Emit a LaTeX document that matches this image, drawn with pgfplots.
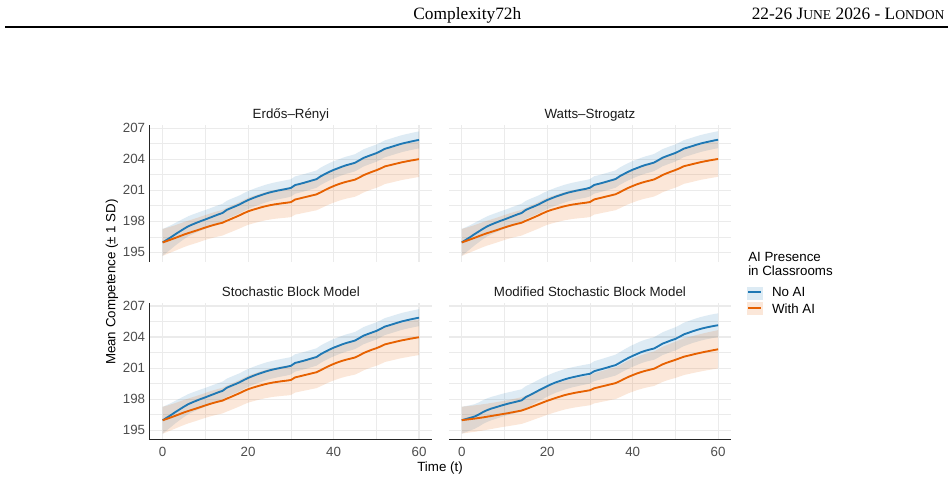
\documentclass[border=0pt]{standalone}
\usepackage{pgfplots}
\pgfplotsset{compat=1.18}
\usepackage{pgfplotstable}
\usepgfplotslibrary{fillbetween}
\usepackage{fontspec}
\setmainfont{Liberation Sans}
\newfontfamily\headfont{Liberation Serif}

\definecolor{noai}{HTML}{1F78B4}
\definecolor{withai}{HTML}{E66101}
\definecolor{gridc}{HTML}{EBEBEB}
\definecolor{tickc}{HTML}{4D4D4D}
\definecolor{titlec}{HTML}{1A1A1A}

% t, No AI mean, No AI sd, With AI mean, With AI sd
\pgfplotstableread{
t nm ns wm ws
0 195.96 1.30 195.96 1.30
1 196.22 1.22 196.10 1.27
2 196.48 1.15 196.25 1.25
3 196.76 1.09 196.40 1.23
4 197.02 1.04 196.56 1.22
5 197.28 1.00 196.72 1.21
6 197.52 0.97 196.86 1.20
7 197.70 0.95 196.99 1.20
8 197.87 0.93 197.12 1.20
9 198.03 0.92 197.26 1.20
10 198.18 0.91 197.40 1.20
11 198.34 0.90 197.53 1.21
12 198.50 0.90 197.65 1.22
13 198.66 0.89 197.76 1.23
14 198.80 0.89 197.86 1.24
15 199.10 0.88 198.05 1.25
16 199.28 0.88 198.22 1.26
17 199.45 0.88 198.40 1.27
18 199.63 0.87 198.58 1.28
19 199.85 0.87 198.78 1.29
20 200.05 0.87 198.96 1.30
21 200.22 0.86 199.10 1.32
22 200.38 0.86 199.22 1.33
23 200.52 0.86 199.34 1.35
24 200.66 0.86 199.45 1.36
25 200.78 0.85 199.54 1.38
26 200.88 0.85 199.62 1.39
27 200.97 0.85 199.68 1.41
28 201.05 0.85 199.74 1.42
29 201.13 0.85 199.79 1.44
30 201.22 0.84 199.85 1.45
31 201.50 0.84 200.10 1.46
32 201.60 0.84 200.20 1.48
33 201.71 0.84 200.30 1.49
34 201.83 0.84 200.40 1.51
35 201.95 0.84 200.50 1.52
36 202.07 0.84 200.60 1.54
37 202.35 0.84 200.80 1.55
38 202.57 0.84 201.02 1.57
39 202.78 0.84 201.22 1.58
40 202.96 0.84 201.40 1.60
41 203.12 0.83 201.56 1.61
42 203.28 0.83 201.70 1.62
43 203.42 0.83 201.82 1.63
44 203.53 0.83 201.92 1.64
45 203.65 0.83 202.02 1.65
46 203.88 0.83 202.22 1.66
47 204.12 0.83 202.45 1.67
48 204.28 0.83 202.62 1.68
49 204.43 0.83 202.78 1.69
50 204.58 0.83 202.93 1.70
51 204.78 0.82 203.10 1.70
52 205.00 0.82 203.30 1.70
53 205.12 0.82 203.40 1.71
54 205.25 0.82 203.50 1.71
55 205.38 0.82 203.60 1.71
56 205.50 0.82 203.70 1.71
57 205.60 0.82 203.78 1.72
58 205.69 0.82 203.86 1.72
59 205.78 0.82 203.93 1.72
60 205.86 0.82 204.00 1.72
}\ERdata

\pgfplotstableread{
t nm ns wm ws
0 195.96 1.30 195.96 1.30
1 196.22 1.22 196.10 1.27
2 196.48 1.15 196.25 1.25
3 196.76 1.09 196.40 1.23
4 197.02 1.04 196.56 1.22
5 197.28 1.00 196.72 1.21
6 197.52 0.97 196.86 1.20
7 197.70 0.95 196.99 1.20
8 197.87 0.93 197.12 1.20
9 198.03 0.92 197.26 1.20
10 198.18 0.91 197.40 1.20
11 198.34 0.90 197.53 1.21
12 198.50 0.90 197.65 1.22
13 198.66 0.89 197.76 1.23
14 198.80 0.89 197.86 1.24
15 199.10 0.88 198.05 1.25
16 199.28 0.88 198.22 1.26
17 199.45 0.88 198.40 1.27
18 199.63 0.87 198.58 1.28
19 199.85 0.87 198.78 1.29
20 200.05 0.87 198.96 1.30
21 200.22 0.86 199.10 1.32
22 200.38 0.86 199.22 1.33
23 200.52 0.86 199.34 1.35
24 200.66 0.86 199.45 1.36
25 200.78 0.85 199.54 1.38
26 200.88 0.85 199.62 1.39
27 200.97 0.85 199.68 1.41
28 201.05 0.85 199.74 1.42
29 201.13 0.85 199.79 1.44
30 201.24 0.84 199.86 1.45
31 201.51 0.84 200.11 1.46
32 201.61 0.84 200.21 1.48
33 201.72 0.84 200.31 1.49
34 201.84 0.84 200.41 1.51
35 201.96 0.84 200.51 1.52
36 202.08 0.84 200.61 1.54
37 202.36 0.84 200.81 1.55
38 202.58 0.84 201.03 1.57
39 202.79 0.84 201.23 1.58
40 202.98 0.84 201.41 1.60
41 203.14 0.83 201.57 1.61
42 203.30 0.83 201.71 1.62
43 203.44 0.83 201.83 1.63
44 203.55 0.83 201.93 1.64
45 203.67 0.83 202.04 1.65
46 203.90 0.83 202.24 1.66
47 204.14 0.83 202.47 1.67
48 204.30 0.83 202.64 1.68
49 204.45 0.83 202.80 1.69
50 204.60 0.83 202.95 1.70
51 204.80 0.82 203.12 1.70
52 205.02 0.82 203.32 1.70
53 205.14 0.82 203.42 1.71
54 205.27 0.82 203.52 1.71
55 205.40 0.82 203.62 1.71
56 205.52 0.82 203.72 1.71
57 205.62 0.82 203.80 1.72
58 205.71 0.82 203.88 1.72
59 205.80 0.82 203.95 1.72
60 205.88 0.82 204.02 1.72
}\WSdata

\pgfplotstableread{
t nm ns wm ws
0 195.96 1.30 195.96 1.30
1 196.22 1.22 196.10 1.27
2 196.48 1.15 196.25 1.25
3 196.76 1.09 196.40 1.23
4 197.02 1.04 196.56 1.22
5 197.28 1.00 196.72 1.21
6 197.52 0.97 196.86 1.20
7 197.70 0.95 196.99 1.20
8 197.87 0.93 197.12 1.20
9 198.03 0.92 197.26 1.20
10 198.18 0.91 197.40 1.20
11 198.34 0.90 197.53 1.21
12 198.50 0.90 197.65 1.22
13 198.66 0.89 197.76 1.23
14 198.80 0.89 197.86 1.24
15 199.10 0.88 198.05 1.25
16 199.28 0.88 198.22 1.26
17 199.45 0.88 198.40 1.27
18 199.63 0.87 198.58 1.28
19 199.85 0.87 198.78 1.29
20 200.05 0.87 198.96 1.30
21 200.22 0.86 199.10 1.32
22 200.38 0.86 199.22 1.33
23 200.52 0.86 199.34 1.35
24 200.66 0.86 199.45 1.36
25 200.78 0.85 199.54 1.38
26 200.88 0.85 199.62 1.39
27 200.97 0.85 199.68 1.41
28 201.05 0.85 199.74 1.42
29 201.13 0.85 199.79 1.44
30 201.22 0.84 199.85 1.45
31 201.50 0.84 200.10 1.46
32 201.60 0.84 200.20 1.48
33 201.71 0.84 200.30 1.49
34 201.83 0.84 200.40 1.51
35 201.95 0.84 200.50 1.52
36 202.07 0.84 200.60 1.54
37 202.35 0.84 200.80 1.55
38 202.57 0.84 201.02 1.57
39 202.78 0.84 201.22 1.58
40 202.97 0.84 201.40 1.60
41 203.13 0.83 201.56 1.61
42 203.29 0.83 201.70 1.62
43 203.43 0.83 201.82 1.63
44 203.54 0.83 201.92 1.64
45 203.66 0.83 202.02 1.65
46 203.89 0.83 202.22 1.66
47 204.13 0.83 202.45 1.67
48 204.29 0.83 202.62 1.68
49 204.44 0.83 202.78 1.69
50 204.59 0.83 202.92 1.70
51 204.79 0.82 203.09 1.70
52 205.01 0.82 203.29 1.70
53 205.13 0.82 203.39 1.71
54 205.26 0.82 203.49 1.71
55 205.39 0.82 203.59 1.71
56 205.51 0.82 203.68 1.71
57 205.61 0.82 203.76 1.72
58 205.70 0.82 203.84 1.72
59 205.79 0.82 203.91 1.72
60 205.87 0.82 203.98 1.72
}\SBMdata

\pgfplotstableread{
t nm ns wm ws
0 195.97 1.30 195.97 1.30
1 196.08 1.26 196.02 1.29
2 196.20 1.22 196.07 1.28
3 196.32 1.19 196.12 1.28
4 196.52 1.17 196.18 1.27
5 196.76 1.15 196.24 1.27
6 196.95 1.14 196.31 1.26
7 197.10 1.13 196.38 1.26
8 197.22 1.12 196.45 1.25
9 197.35 1.11 196.52 1.25
10 197.47 1.10 196.59 1.25
11 197.58 1.09 196.66 1.26
12 197.68 1.08 196.74 1.27
13 197.78 1.08 196.82 1.28
14 197.88 1.07 196.90 1.29
15 198.20 1.06 197.04 1.30
16 198.40 1.05 197.20 1.31
17 198.62 1.04 197.36 1.32
18 198.84 1.04 197.52 1.33
19 199.05 1.03 197.68 1.34
20 199.26 1.02 197.84 1.35
21 199.45 1.01 197.98 1.36
22 199.62 1.00 198.12 1.37
23 199.76 1.00 198.25 1.38
24 199.90 0.99 198.38 1.39
25 200.02 0.98 198.48 1.40
26 200.12 0.97 198.57 1.41
27 200.21 0.97 198.65 1.42
28 200.30 0.96 198.72 1.43
29 200.38 0.96 198.79 1.44
30 200.45 0.95 198.86 1.45
31 200.70 0.96 199.05 1.46
32 200.82 0.97 199.15 1.48
33 200.93 0.98 199.25 1.49
34 201.05 0.99 199.35 1.51
35 201.17 1.00 199.45 1.52
36 201.29 1.01 199.55 1.54
37 201.52 1.02 199.74 1.55
38 201.76 1.03 199.95 1.57
39 201.98 1.04 200.15 1.58
40 202.18 1.05 200.32 1.60
41 202.36 1.06 200.48 1.61
42 202.54 1.07 200.62 1.63
43 202.68 1.07 200.74 1.64
44 202.79 1.08 200.84 1.65
45 202.89 1.09 200.94 1.67
46 203.12 1.10 201.15 1.68
47 203.36 1.10 201.36 1.70
48 203.52 1.11 201.52 1.71
49 203.68 1.11 201.66 1.73
50 203.82 1.12 201.80 1.75
51 204.03 1.12 201.95 1.76
52 204.26 1.13 202.10 1.77
53 204.40 1.13 202.20 1.78
54 204.55 1.13 202.30 1.79
55 204.68 1.14 202.40 1.80
56 204.80 1.14 202.49 1.81
57 204.90 1.14 202.58 1.82
58 204.99 1.15 202.66 1.83
59 205.07 1.15 202.74 1.84
60 205.14 1.15 202.82 1.85
}\MSBMdata

\pgfplotsset{
  panel/.style={
    scale only axis,
    width=211.5pt, height=102.5pt,
    xmin=-3, xmax=63, ymin=194.1, ymax=207.3,
    xtick={0,20,40,60}, minor xtick={10,30,50},
    ytick={195,198,201,204,207}, minor ytick={196.5,199.5,202.5,205.5},
    grid=both,
    major grid style={draw=gridc, line width=0.85pt},
    minor grid style={draw=gridc, line width=0.45pt},
    axis lines*=left,
    axis line style={draw=black!85, line width=0.8pt},
    major tick length=0pt, minor tick length=0pt,
    /pgf/number format/assume math mode=true,
    ticklabel style={font=\fontsize{10}{12}\selectfont, text=tickc},
    xticklabel style={yshift=-2pt},
    title style={at={(0.5,1)}, anchor=base, yshift=-1.5pt,
      font=\fontsize{10}{12}\selectfont, text=titlec},
  },
  top/.style={xticklabels={}, x axis line style={draw=none}},
  right/.style={yticklabels={}, y axis line style={draw=none}},
}

% ribbons of mean +/- 1 SD, then the two mean lines
\newcommand{\drawpanel}[1]{%
  \addplot[draw=none, name path=nu, forget plot] table[x=t, y expr=\thisrow{nm}+\thisrow{ns}] {#1};
  \addplot[draw=none, name path=nl, forget plot] table[x=t, y expr=\thisrow{nm}-\thisrow{ns}] {#1};
  \addplot[fill=noai, fill opacity=0.15, draw=none, forget plot] fill between[of=nu and nl];
  \addplot[draw=none, name path=wu, forget plot] table[x=t, y expr=\thisrow{wm}+\thisrow{ws}] {#1};
  \addplot[draw=none, name path=wl, forget plot] table[x=t, y expr=\thisrow{wm}-\thisrow{ws}] {#1};
  \addplot[fill=withai, fill opacity=0.15, draw=none, forget plot] fill between[of=wu and wl];
  \addplot[noai, line width=1.4pt] table[x=t, y=nm] {#1};
  \addplot[withai, line width=1.4pt] table[x=t, y=wm] {#1};
}

\begin{document}
\begin{tikzpicture}

% running head
\node[anchor=base, inner sep=0, font=\headfont\fontsize{13}{15}\selectfont]
  at (350.5pt,345.75pt) {Complexity72h};
\node[anchor=base east, inner sep=0, font=\headfont\fontsize{13}{15}\selectfont]
  at (708.5pt,345.75pt) {22-26 J{\fontsize{10.2}{12}\selectfont UNE} 2026 - L{\fontsize{10.2}{12}\selectfont ONDON}};
\draw[line width=0.9pt] (4pt,340.5pt) -- (711pt,340.5pt);

\begin{axis}[panel, top, at={(112.4pt,164.5pt)}, anchor=south west, title={Erdős–Rényi}]
  \drawpanel{\ERdata}
\end{axis}
\begin{axis}[panel, top, right, at={(336.7pt,164.5pt)}, anchor=south west, title={Watts–Strogatz}]
  \drawpanel{\WSdata}
\end{axis}
\begin{axis}[panel, at={(112.4pt,31.1pt)}, anchor=south west, title={Stochastic Block Model}]
  \drawpanel{\SBMdata}
\end{axis}
\begin{axis}[panel, right, at={(336.7pt,31.1pt)}, anchor=south west, title={Modified Stochastic Block Model}]
  \drawpanel{\MSBMdata}
\end{axis}

% shared axis titles
\node[rotate=90, font=\fontsize{10}{12}\selectfont] at (84pt,149.25pt) {Mean Competence (± 1 SD)};
\node[font=\fontsize{10}{12}\selectfont] at (330pt,9.9pt) {Time (t)};

% legend
\begin{scope}[font=\fontsize{10}{12}\selectfont]
  \node[anchor=west, inner sep=0] at (561pt,168.2pt) {AI Presence};
  \node[anchor=west, inner sep=0] at (561pt,157.7pt) {in Classrooms};
  \fill[noai!15] (560pt,135.75pt) rectangle (572pt,145.7pt);
  \draw[noai, line width=1.4pt] (561pt,141.5pt) -- (571pt,141.5pt);
  \fill[withai!15] (560pt,124.5pt) rectangle (572pt,134.5pt);
  \draw[withai, line width=1.4pt] (561pt,129.5pt) -- (571pt,129.5pt);
  \node[anchor=west, inner sep=0] at (578.8pt,141.5pt) {No AI};
  \node[anchor=west, inner sep=0] at (578.8pt,129.5pt) {With AI};
\end{scope}

\pgfresetboundingbox
\useasboundingbox (0,0) rectangle (711pt,360.75pt);
\end{tikzpicture}
\end{document}
